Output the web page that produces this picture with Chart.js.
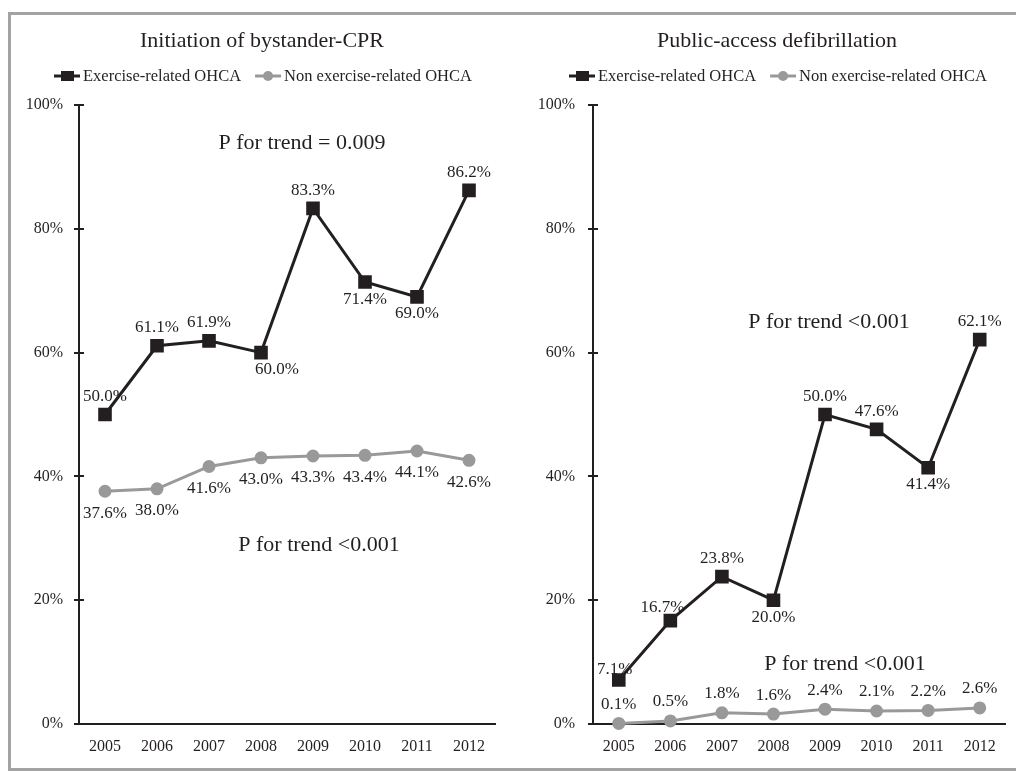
<!DOCTYPE html>
<html>
<head>
<meta charset="utf-8">
<script src="https://cdn.jsdelivr.net/npm/chart.js@4.4.0/dist/chart.umd.min.js"></script>
<style>
body { margin: 0; background: #fff; overflow: hidden; }
#wrap { position: relative; width: 1016px; height: 772px; }
#frame { position: absolute; left: 8px; top: 12px; width: 1100px; height: 759px; border: 3px solid #a3a3a3; box-sizing: border-box; }
canvas { position: absolute; top: 0; }
#cpr { left: 0; }
#pad { left: 508px; }
</style>
</head>
<body>
<div id="wrap">
  <div id="frame"></div>
  <canvas id="cpr" width="508" height="772"></canvas>
  <canvas id="pad" width="508" height="772"></canvas>
</div>
<script>
var years = ['2005', '2006', '2007', '2008', '2009', '2010', '2011', '2012'];
var yTicks = [0, 20, 40, 60, 80, 100];
var seriesNames = ['Exercise-related OHCA', 'Non exercise-related OHCA'];

var cprExercise = [50.0, 61.1, 61.9, 60.0, 83.3, 71.4, 69.0, 86.2];
var cprNonExercise = [37.6, 38.0, 41.6, 43.0, 43.3, 43.4, 44.1, 42.6];
var padExercise = [7.1, 16.7, 23.8, 20.0, 50.0, 47.6, 41.4, 62.1];
var padNonExercise = [0.1, 0.5, 1.8, 1.6, 2.4, 2.1, 2.2, 2.6];

// where each value label sits: 1 = above the point, -1 = below
var cprExercisePos = [1, 1, 1, -1, 1, -1, -1, 1];
var cprNonPos = [-1, -1, -1, -1, -1, -1, -1, -1];
var padExercisePos = [1, 1, 1, -1, 1, 1, -1, 1];
var padNonPos = [1, 1, 1, 1, 1, 1, 1, 1];

var INK = '#231f20';
var GREY = '#999999';
var SERIF = "'Liberation Serif', 'Times New Roman', serif";

// per-panel decoration, looked up by canvas id
var panels = {
  cpr: {
    title: 'Initiation of bystander-CPR',
    titleX: 262,
    legendX: 54,
    notes: [
      { text: 'P for trend = 0.009', x: 302, y: 143 },
      { text: 'P for trend <0.001', x: 319, y: 545 }
    ],
    pos: [cprExercisePos, cprNonPos],
    nudge: [{ 3: [16, 0] }, {}]
  },
  pad: {
    title: 'Public-access defibrillation',
    titleX: 269,
    legendX: 61,
    notes: [
      { text: 'P for trend <0.001', x: 321, y: 322 },
      { text: 'P for trend <0.001', x: 337, y: 664 }
    ],
    pos: [padExercisePos, padNonPos],
    nudge: [{ 0: [-4, 7], 1: [-8, 5] }, {}]
  }
};

function drawLegend(ctx, x0, y) {
  var x = x0;
  ctx.font = '16.5px ' + SERIF;
  ctx.textBaseline = 'middle';
  ctx.textAlign = 'left';
  [INK, GREY].forEach(function (col, i) {
    ctx.strokeStyle = col;
    ctx.lineWidth = 3;
    ctx.beginPath();
    ctx.moveTo(x, y);
    ctx.lineTo(x + 26, y);
    ctx.stroke();
    ctx.fillStyle = col;
    ctx.beginPath();
    if (i === 0) ctx.rect(x + 7, y - 5, 13, 10);
    else ctx.arc(x + 13, y, 5, 0, Math.PI * 2);
    ctx.fill();
    ctx.fillStyle = INK;
    ctx.fillText(seriesNames[i], x + 29, y + 1);
    x += 29 + ctx.measureText(seriesNames[i]).width + 14;
  });
}

var decor = {
  id: 'decor',
  afterDraw: function (chart) {
    var p = panels[chart.canvas.id];
    var ctx = chart.ctx;
    var ys = chart.scales.y;
    var ax = chart.chartArea.left;
    ctx.save();
    // y tick marks crossing the axis
    ctx.strokeStyle = INK;
    ctx.lineWidth = 2;
    yTicks.forEach(function (v) {
      var py = Math.round(ys.getPixelForValue(v));
      ctx.beginPath();
      ctx.moveTo(ax - 5, py);
      ctx.lineTo(ax + 5, py);
      ctx.stroke();
    });
    // title
    ctx.fillStyle = INK;
    ctx.textAlign = 'center';
    ctx.textBaseline = 'middle';
    ctx.font = '22px ' + SERIF;
    ctx.fillText(p.title, p.titleX, 41);
    drawLegend(ctx, p.legendX, 76);
    // trend notes
    ctx.fillStyle = INK;
    ctx.font = '22px ' + SERIF;
    ctx.textAlign = 'center';
    p.notes.forEach(function (n) {
      ctx.fillText(n.text, n.x, n.y);
    });
    // value labels
    ctx.font = '17px ' + SERIF;
    chart.data.datasets.forEach(function (ds, di) {
      var meta = chart.getDatasetMeta(di);
      var pos = p.pos[di];
      var nudge = p.nudge[di];
      meta.data.forEach(function (pt, i) {
        var off;
        if (pos[i] > 0) off = di === 0 ? -18 : -19;
        else off = di === 0 ? 17 : 22;
        var d = nudge[i] || [0, 0];
        ctx.fillText(ds.data[i].toFixed(1) + '%', pt.x + d[0], pt.y + off + d[1]);
      });
    });
    ctx.restore();
  }
};

function makeChart(id, exData, nonData, axisX, right, labelPad) {
  return new Chart(document.getElementById(id), {
    type: 'line',
    data: {
      labels: years,
      datasets: [{
        label: seriesNames[0],
        data: exData,
        borderColor: INK,
        backgroundColor: INK,
        borderWidth: 3,
        pointStyle: 'rect',
        pointRadius: 7.5,
        pointHoverRadius: 7.5,
        tension: 0
      }, {
        label: seriesNames[1],
        data: nonData,
        borderColor: GREY,
        backgroundColor: GREY,
        borderWidth: 3,
        pointStyle: 'circle',
        pointRadius: 5,
        pointHoverRadius: 5,
        tension: 0
      }]
    },
    options: {
      responsive: false,
      animation: false,
      events: [],
      clip: false,
      layout: { padding: { top: 105, right: right, bottom: 8, left: 0 } },
      plugins: {
        legend: { display: false },
        tooltip: { enabled: false }
      },
      scales: {
        x: {
          type: 'category',
          offset: true,
          grid: { display: false },
          border: { display: true, color: INK, width: 2 },
          ticks: { color: INK, font: { family: SERIF, size: 16 }, padding: 5, maxRotation: 0 },
          afterFit: function (s) { s.height = 40; }
        },
        y: {
          min: 0,
          max: 100,
          grid: { display: false },
          border: { display: true, color: INK, width: 2 },
          ticks: {
            stepSize: 20,
            color: INK,
            padding: labelPad,
            font: { family: SERIF, size: 16 },
            callback: function (v) { return v + '%'; }
          },
          afterFit: function (s) { s.width = axisX; }
        }
      }
    },
    plugins: [decor]
  });
}

makeChart('cpr', cprExercise, cprNonExercise, 79, 13, 8);
makeChart('pad', padExercise, padNonExercise, 85, 7, 10);
</script>
</body>
</html>
